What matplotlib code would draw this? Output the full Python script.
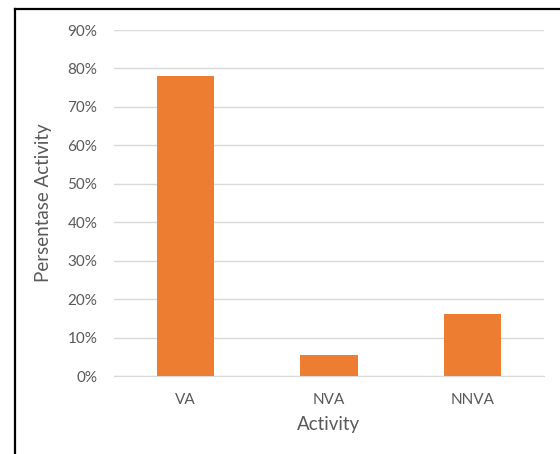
import matplotlib

matplotlib.use("Agg")
import matplotlib.pyplot as plt
from matplotlib.lines import Line2D
from matplotlib.ticker import PercentFormatter

categories = ["VA", "NVA", "NNVA"]
values = [0.78, 0.054, 0.162]
y_ticks = [0.0, 0.1, 0.2, 0.3, 0.4, 0.5, 0.6, 0.7, 0.8, 0.9]

C_BAR = "#ED7D31"
C_GRID = "#D9D9D9"
C_TEXT = "#595959"

plt.rcParams["font.family"] = ["Lato", "DejaVu Sans"]

fig = plt.figure(figsize=(5.6, 4.54), dpi=100, facecolor="white")
ax = fig.add_axes([0.2036, 0.1718, 0.7675, 0.7621])

ax.bar(categories, values, width=0.4, color=C_BAR, zorder=3)

ax.set_ylim(0, 0.9)
ax.set_xlim(-0.5, 2.5)
ax.set_yticks(y_ticks)
ax.yaxis.set_major_formatter(PercentFormatter(1.0, decimals=0))
ax.grid(True, axis="y", color=C_GRID, lw=1.0, zorder=0)
ax.set_axisbelow(True)
for side in ["top", "right", "left"]:
    ax.spines[side].set_visible(False)
ax.spines["bottom"].set_color(C_GRID)
ax.tick_params(axis="both", length=0, labelsize=11, colors=C_TEXT)
ax.tick_params(axis="y", pad=12)
ax.tick_params(axis="x", pad=12)

ax.set_xlabel("Activity", fontsize=13.5, color=C_TEXT, labelpad=7)
ax.set_ylabel("Persentase Activity", fontsize=13.5, color=C_TEXT, labelpad=11)

# outer frame (left and top edges only)
fig.add_artist(Line2D([0.027, 0.027], [0.0, 0.980], color="black", lw=1.6, transform=fig.transFigure))
fig.add_artist(Line2D([0.027, 1.0], [0.980, 0.980], color="black", lw=1.6, transform=fig.transFigure))

fig.savefig("out.png", dpi=100)
plt.close(fig)
